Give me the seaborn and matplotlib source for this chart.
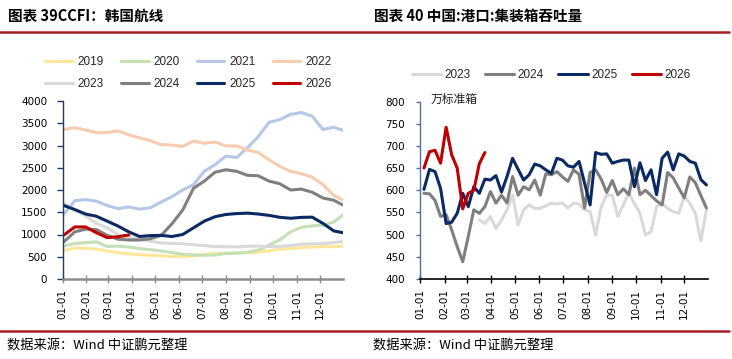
import matplotlib
matplotlib.use("Agg")
import matplotlib.pyplot as plt
from matplotlib.lines import Line2D
import numpy as np
import pandas as pd
import seaborn as sns

# ---------------- data: left panel (CCFI Korea route, biweekly readings) ----------------
days_left = [2, 16, 30, 44, 58, 72, 86, 100, 114, 128, 142, 156, 170, 184,
             198, 212, 226, 240, 254, 268, 282, 296, 310, 324, 338, 352, 364]
ccfi_2019 = [640, 695, 690, 670, 630, 590, 565, 545, 535, 520, 505, 500, 520, 550,
             577, 577, 588, 592, 605, 635, 667, 685, 703, 718, 727, 727, 741]
ccfi_2020 = [740, 800, 816, 835, 730, 740, 720, 685, 660, 630, 595, 555, 540, 535,
             540, 575, 578, 600, 650, 760, 880, 1060, 1160, 1195, 1205, 1280, 1440]
ccfi_2021 = [1460, 1760, 1785, 1750, 1650, 1580, 1620, 1570, 1600, 1730, 1850, 2000, 2120, 2420,
             2570, 2760, 2730, 2950, 3200, 3520, 3580, 3700, 3740, 3660, 3360, 3410, 3340]
ccfi_2022 = [3360, 3400, 3350, 3290, 3290, 3330, 3240, 3170, 3110, 3020, 3010, 2980, 3100, 3050,
             3080, 2990, 2990, 2900, 2839, 2680, 2530, 2420, 2365, 2290, 2120, 1880, 1775]
ccfi_2023 = [1700, 1560, 1420, 1250, 1150, 1000, 930, 900, 850, 810, 800, 790, 770, 750,
             730, 725, 720, 735, 740, 730, 735, 750, 780, 790, 795, 820, 840]
ccfi_2024 = [840, 1060, 1120, 1110, 980, 895, 876, 876, 905, 980, 1240, 1550, 2040, 2200,
             2400, 2455, 2420, 2330, 2320, 2200, 2140, 2000, 2020, 1950, 1820, 1770, 1660]
ccfi_2025 = [1650, 1560, 1460, 1410, 1300, 1190, 1060, 955, 975, 980, 955, 1000, 1150, 1300,
             1400, 1450, 1470, 1480, 1460, 1430, 1386, 1365, 1385, 1390, 1250, 1080, 1040]
ccfi_2026 = [990, 1170, 1170, 1040, 930, 950, 990]

left_years = ["2019", "2020", "2021", "2022", "2023", "2024", "2025", "2026"]
left_series = [ccfi_2019, ccfi_2020, ccfi_2021, ccfi_2022, ccfi_2023, ccfi_2024, ccfi_2025, ccfi_2026]

# ---------------- data: right panel (China port container throughput, weekly) ----------------
week_days = list(range(5, 365, 7))  # weekly observation days of year (52 weeks)
teu_2023 = [None] * 10 + [533, 525, 541, 514, 533, 556, 589, 522, 556, 567, 559, 559, 565, 571,
            569, 571, 560, 571, 569, 556, 552, 499, 563, 589, 589, 541, 567, 593, 570, 548,
            499, 507, 563, 571, 559, 552, 548, 586, 571, 548, 486, 556]
teu_2024 = [593, 592, 577, 541, 545, 511, 473, 439, 496, 556, 548, 563, 597, 571, 589, 571,
            631, 589, 608, 601, 623, 589, 637, 635, 642, 630, 620, 646, 636, 560, 640, 646,
            625, 595, 622, 590, 603, 590, 650, 590, 600, 588, 576, 567, 640, 628, 605, 583,
            630, 617, 588, 560]
teu_2025 = [602, 647, 642, 604, 525, 528, 548, 593, 563, 608, 593, 625, 623, 633, 596, 631,
            672, 647, 623, 635, 659, 655, 646, 638, 672, 668, 655, 652, 665, 616, 567, 685,
            681, 682, 661, 665, 668, 668, 608, 662, 622, 646, 590, 672, 686, 646, 682, 677,
            665, 661, 624, 612]
teu_2026 = [650, 687, 690, 661, 742, 680, 650, 558, 593, 600, 660, 685]

right_years = ["2023", "2024", "2025", "2026"]
right_series = [teu_2023, teu_2024, teu_2025, teu_2026]

month_ticks = [0, 31, 59, 90, 120, 151, 181, 212, 243, 273, 304, 334]
month_labels = ["01-01", "02-01", "03-01", "04-01", "05-01", "06-01",
                "07-01", "08-01", "09-01", "10-01", "11-01", "12-01"]

colors = {"2019": "#ffe699", "2020": "#c5e0b4", "2021": "#b4c7e7", "2022": "#f8cbad",
          "2023": "#d9d9d9", "2024": "#7f7f7f", "2025": "#0b2a63", "2026": "#c00000"}


def long_frame(days, years, series):
    rows = []
    for y, vals in zip(years, series):
        for d, v in zip(days, vals):
            if v is not None:
                rows.append({"day": d, "value": v, "year": y})
    return pd.DataFrame(rows)


df_left = long_frame(days_left, left_years, left_series)
df_right = long_frame(week_days, right_years, right_series)

# ---------------- style ----------------
sns.set_theme(style="white")
plt.rcParams["font.family"] = ["DejaVu Sans", "Noto Sans CJK SC"]
CJK = ["Noto Sans CJK SC", "DejaVu Sans"]

W, H = 732, 359
fig = plt.figure(figsize=(W / 100, H / 100), dpi=100)


def fx(px):
    return px / W


def fy(py):
    return 1 - py / H


ax1 = fig.add_axes([fx(62.5), fy(279), fx(343) - fx(62.5), fy(101) - fy(279)])
ax2 = fig.add_axes([fx(420), fy(279), fx(708) - fx(420), fy(101.5) - fy(279)])

for ax, df, years in ((ax1, df_left, left_years), (ax2, df_right, right_years)):
    for y in years:
        sub = df[df["year"] == y]
        sns.lineplot(data=sub, x="day", y="value", color=colors[y], linewidth=2.2,
                     label=y, ax=ax, legend=False, errorbar=None)
    ax.set_xlabel("")
    ax.set_ylabel("")
    ax.set_xlim(0, 364)
    ax.set_xticks(month_ticks)
    ax.set_xticklabels(month_labels, rotation=90, fontsize=7.5, color="#000000")
    for s in ("top", "right"):
        ax.spines[s].set_visible(False)
    ax.patch.set_alpha(0)

# left axes
ax1.set_ylim(0, 4000)
ax1.set_yticks(range(0, 4001, 500))
ax1.tick_params(axis="y", direction="out", length=4, width=1, color="#1f3864",
                pad=7, labelsize=7.5, labelcolor="#000000", left=True)
ax1.tick_params(axis="x", direction="inout", length=6, width=1, color="#8c8c8c",
                pad=4, bottom=True)
ax1.spines["left"].set_color("#1f3864")
ax1.spines["left"].set_linewidth(1.0)
ax1.spines["bottom"].set_color("#8c8c8c")
ax1.spines["bottom"].set_linewidth(1.8)

# right axes
ax2.set_ylim(400, 800)
ax2.set_yticks(range(400, 801, 50))
ax2.tick_params(axis="y", direction="out", length=3, width=1, color="#4f6fa5",
                pad=8, labelsize=7.5, labelcolor="#000000", left=True)
ax2.tick_params(axis="x", direction="inout", length=6, width=1, color="#000000",
                pad=4, bottom=True)
ax2.spines["left"].set_color("#4f6fa5")
ax2.spines["left"].set_linewidth(1.0)
ax2.spines["bottom"].set_color("#000000")
ax2.spines["bottom"].set_linewidth(1.2)

ax2.text(14, 805, "万标准箱", fontsize=8.5, family=CJK, ha="left", va="center",
         color="#222222", clip_on=False)

# legends
leg_font = {"family": "Liberation Sans", "size": 8.5}
h1 = {l.get_label(): l for l in ax1.get_lines()}
order = ["2019", "2023", "2020", "2024", "2021", "2025", "2022", "2026"]
ax1.legend([h1[k] for k in order], order, ncol=4, loc="upper left",
           bbox_to_anchor=(fx(45), fy(56)), bbox_transform=fig.transFigure,
           frameon=False, prop=leg_font, handlelength=2.35, handletextpad=0.4,
           columnspacing=1.45, labelspacing=0.85, borderpad=0, borderaxespad=0)
h2 = {l.get_label(): l for l in ax2.get_lines()}
ax2.legend([h2[k] for k in right_years], right_years, ncol=4, loc="upper left",
           bbox_to_anchor=(fx(411.5), fy(69)), bbox_transform=fig.transFigure,
           frameon=False, prop=leg_font, handlelength=2.5, handletextpad=0.3,
           columnspacing=1.2, borderpad=0, borderaxespad=0)

# titles, rules, footers
fig.text(fx(8), fy(15.5), "图表 39CCFI：韩国航线", fontsize=10.5, fontweight="bold",
         family=CJK, ha="left", va="center", color="#000000")
fig.text(fx(373.5), fy(15.5), "图表 40 中国:港口:集装箱吞吐量", fontsize=10.5,
         fontweight="bold", family=CJK, ha="left", va="center", color="#000000")
rule = "#a31f24"
fig.add_artist(Line2D([0, fx(729)], [fy(32.3)] * 2, color=rule, lw=1.8,
                      transform=fig.transFigure))
fig.add_artist(Line2D([0, fx(729)], [fy(331)] * 2, color=rule, lw=1.8,
                      transform=fig.transFigure))
fig.text(fx(7.5), fy(345), "数据来源：Wind 中证鹏元整理", fontsize=9.5, family=CJK,
         ha="left", va="center", color="#000000")
fig.text(fx(373), fy(345), "数据来源：Wind 中证鹏元整理", fontsize=9.5, family=CJK,
         ha="left", va="center", color="#000000")

fig.savefig("out.png", dpi=100)
